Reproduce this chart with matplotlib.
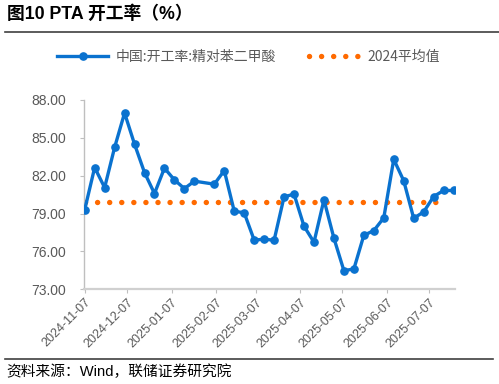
import pandas as pd
import matplotlib
matplotlib.use('Agg')
import matplotlib.pyplot as plt
import matplotlib.dates as mdates
from matplotlib.ticker import FormatStrFormatter

# PTA operating rate, weekly (Wind)
dates = ['2024-11-07', '2024-11-14', '2024-11-21', '2024-11-28', '2024-12-05', '2024-12-12',
         '2024-12-19', '2024-12-26', '2025-01-02', '2025-01-09', '2025-01-16', '2025-01-23',
         '2025-02-06', '2025-02-13', '2025-02-20', '2025-02-27', '2025-03-06', '2025-03-13',
         '2025-03-20', '2025-03-27', '2025-04-03', '2025-04-10', '2025-04-17', '2025-04-24',
         '2025-05-01', '2025-05-08', '2025-05-15', '2025-05-22', '2025-05-29', '2025-06-05',
         '2025-06-12', '2025-06-19', '2025-06-26', '2025-07-03', '2025-07-10', '2025-07-17',
         '2025-07-24']
rate = [79.3, 82.65, 81.06, 84.24, 86.97, 84.5, 82.25, 80.59, 82.6, 81.67, 80.98, 81.57,
        81.33, 82.41, 79.19, 79.06, 76.9, 76.97, 76.89, 80.33, 80.54, 78.0, 76.73, 80.09,
        77.05, 74.48, 74.61, 77.28, 77.65, 78.66, 83.3, 81.6, 78.63, 79.13, 80.35, 80.83,
        80.83]
avg_2024 = 79.9
tick_dates = ['2024-11-07', '2024-12-07', '2025-01-07', '2025-02-07', '2025-03-07',
              '2025-04-07', '2025-05-07', '2025-06-07', '2025-07-07']
yticks = [73, 76, 79, 82, 85, 88]

series_name = '中国:开工率:精对苯二甲酸'
avg_name = '2024平均值'
title = '图10 PTA 开工率（%）'
source = '资料来源：Wind，联储证券研究院'

plt.rcParams['font.family'] = ['Liberation Sans', 'Noto Sans CJK SC', 'DejaVu Sans']

x = pd.to_datetime(dates)
BLUE = '#0A72CF'
ORANGE = '#FF6A00'
GREY = '#595959'

fig = plt.figure(figsize=(4.99, 3.84), dpi=100)
ax = fig.add_axes([0.1683, 0.2466, 0.7435, 0.493])

ax.plot(x, rate, color=BLUE, lw=2.4, marker='o', ms=5.2, label=series_name, zorder=3)
ax.plot(x[:-1], [avg_2024] * (len(x) - 1), color=ORANGE, lw=3.9,
        linestyle=(0, (0.01, 2.22)), dash_capstyle='round', label=avg_name, zorder=2)

ax.set_ylim(73, 88)
ax.set_yticks(yticks)
ax.yaxis.set_major_formatter(FormatStrFormatter('%.2f'))
ax.set_xlim(pd.Timestamp('2024-11-06 12:00'), pd.Timestamp('2025-07-25'))
ax.set_xticks(pd.to_datetime(tick_dates))
ax.xaxis.set_major_formatter(mdates.DateFormatter('%Y-%m-%d'))

for s in ['top', 'right']:
    ax.spines[s].set_visible(False)
ax.spines['left'].set_color('#BFBFBF')
ax.spines['left'].set_linewidth(1.0)
ax.spines['bottom'].set_color('#D0D0D0')
ax.spines['bottom'].set_linewidth(1.6)
ax.tick_params(axis='y', colors='#BFBFBF', labelcolor=GREY, labelsize=10, length=3, pad=10)
ax.tick_params(axis='x', colors='#BFBFBF', labelcolor=GREY, labelsize=9, length=3, pad=2)
for lbl in ax.get_xticklabels():
    lbl.set_rotation(45)
    lbl.set_ha('right')
    lbl.set_rotation_mode('anchor')

leg = fig.legend(loc='center left', bbox_to_anchor=(57 / 499, 1 - 56.7 / 384), ncol=2,
                 frameon=False, handlelength=3.7, handletextpad=0.5,
                 columnspacing=2.4, borderpad=0, borderaxespad=0, numpoints=1,
                 prop={'family': ['Noto Sans CJK SC'], 'size': 10})
for t in leg.get_texts():
    t.set_color(GREY)

fig.text(7 / 499, 1 - 14 / 384, title, fontsize=12.8, fontweight='bold', va='center', ha='left')
fig.add_artist(plt.Line2D([5 / 499, 1], [1 - 31.5 / 384] * 2, color='#404040', lw=1.2))
fig.add_artist(plt.Line2D([5 / 499, 493 / 499], [1 - 359.3 / 384] * 2, color='#404040', lw=1.2))
fig.text(6 / 499, 1 - 372 / 384, source, fontsize=10.6, va='center', ha='left',
         family=['Liberation Sans', 'Noto Sans CJK SC'])

fig.savefig('out.png', dpi=100)
